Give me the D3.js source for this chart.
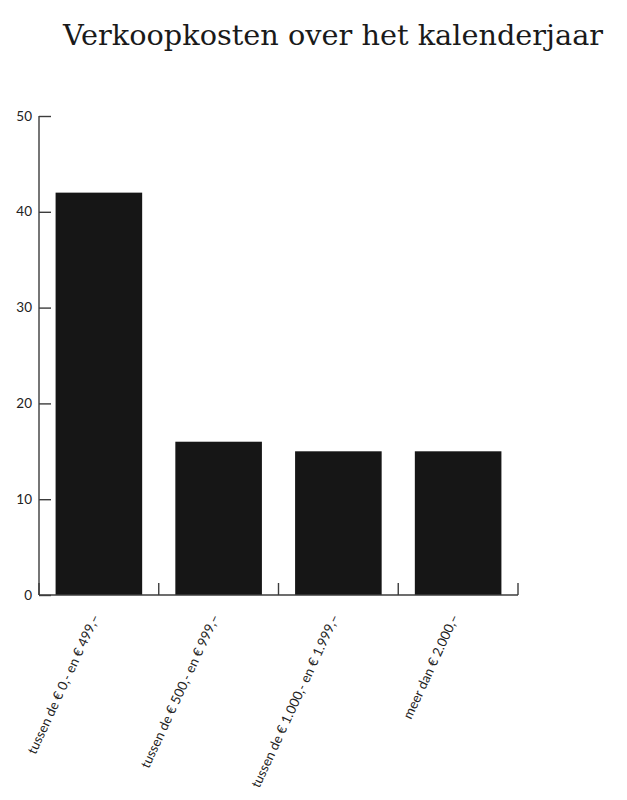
<!DOCTYPE html>
<html><head><meta charset="utf-8">
<script src="https://cdn.jsdelivr.net/npm/d3@7/dist/d3.min.js"></script>
<style>html,body{margin:0;padding:0;background:#fff;}</style>
</head><body>
<svg id="chart" width="627" height="800"></svg>
<script>
const title = "Verkoopkosten over het kalenderjaar";
const categories = ["tussen de € 0,- en € 499,–", "tussen de € 500,- en € 999,–", "tussen de € 1.000,- en € 1.999,–", "meer dan € 2.000,–"];
const values = [42, 16, 15, 15];
const yTicks = [0, 10, 20, 30, 40, 50];

const svg = d3.select("#chart");
const mLeft = 39, mRight = 518, mTop = 116, mBottom = 595;
const axisColor = "#3c3c3c";

const x = d3.scaleBand().domain(categories).range([mLeft, mRight]).paddingInner(0.277).paddingOuter(0.1385);
const y = d3.scaleLinear().domain([0, 50]).range([mBottom, mTop]);

// title
const t = svg.append("text").attr("x", 333).attr("y", 45).attr("text-anchor", "middle")
  .style("font-family", "'DejaVu Serif', serif").style("font-size", "28px").attr("fill", "#1a1a1a").text(title);
const tl = t.node().getComputedTextLength();
t.style("font-size", (28 * 540 / tl).toFixed(2) + "px");

// bars
svg.append("g").selectAll("rect").data(values).join("rect")
  .attr("x", (d, i) => x(categories[i]))
  .attr("y", d => y(d))
  .attr("width", x.bandwidth())
  .attr("height", d => y(0) - y(d))
  .attr("fill", "#161616");

// y axis
const yAxis = svg.append("g").attr("transform", `translate(${mLeft},0)`)
  .call(d3.axisRight(y).tickValues(yTicks).tickSize(12).tickFormat(""));
yAxis.select(".domain").attr("d", `M0,${mTop}V${mBottom}`);
yAxis.selectAll("path,line").attr("stroke", axisColor).attr("stroke-width", 1.4);
svg.append("g").selectAll("text").data(yTicks).join("text")
  .attr("x", 32).attr("y", d => y(d) + 4.5).attr("text-anchor", "end")
  .style("font-family", "Lato, sans-serif").style("font-size", "13.5px").attr("fill", "#222")
  .text(d => d);

// x axis
const step = x.step();
const bounds = d3.range(categories.length + 1).map(i => mLeft + i * step);
const xg = svg.append("g");
xg.append("line").attr("x1", mLeft).attr("x2", mRight).attr("y1", mBottom).attr("y2", mBottom)
  .attr("stroke", axisColor).attr("stroke-width", 1.4);
xg.selectAll("line.tk").data(bounds).join("line").attr("class", "tk")
  .attr("x1", d => d).attr("x2", d => d).attr("y1", mBottom).attr("y2", mBottom - 12)
  .attr("stroke", axisColor).attr("stroke-width", 1.4);

// x labels
svg.append("g").selectAll("text").data(categories).join("text")
  .attr("transform", d => `translate(${x(d) + x.bandwidth() / 2 + 1},617) rotate(-65)`)
  .attr("text-anchor", "end")
  .style("font-family", "Lato, sans-serif").style("font-size", "13.3px").attr("fill", "#222")
  .text(d => d);
</script>
</body></html>
